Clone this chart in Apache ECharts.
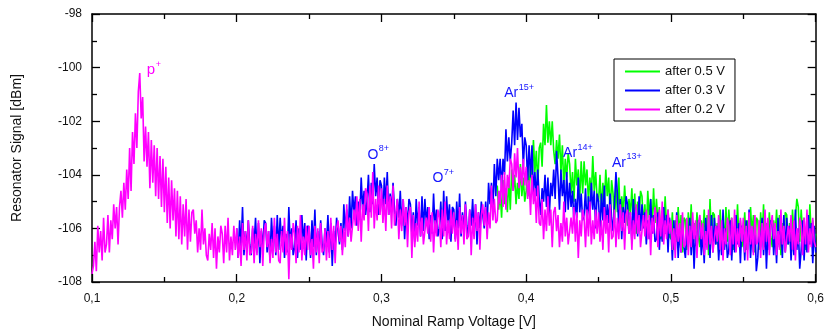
<!DOCTYPE html>
<html>
<head>
<meta charset="utf-8">
<script src="https://cdn.jsdelivr.net/npm/echarts@6/dist/echarts.min.js"></script>
<style>
  html, body { margin: 0; padding: 0; background: #fff; }
  #chart { width: 827px; height: 334px; }
</style>
</head>
<body>
<div id="chart"></div>
<script>
const FONT = '"Liberation Sans", Arial, sans-serif';

// Sweep sampling: each trace is recorded every 1 mV of ramp voltage
const stepV = 0.001;
const startAfter02 = 0.100;
const startAfter03 = 0.200;
const startAfter05 = 0.380;

// Resonator signal [dBm], trace "after 0.2 V" (0.100 ... 0.600 V), one row per 10 mV
const after02 = [
  -107.7, -107.4, -106.5, -107.6, -105.9, -106.9, -106.1, -107.2, -105.6, -106.9,
  -106.6, -105.5, -106.9, -105.7, -106.4, -105.1, -106.0, -105.2, -106.6, -105.2,
  -104.6, -105.6, -104.3, -105.3, -103.8, -104.9, -103.0, -104.6, -102.4, -103.6,
  -101.7, -103.0, -100.9, -100.2, -101.9, -101.1, -103.5, -102.2, -103.7, -102.4,
  -104.5, -102.7, -104.3, -102.9, -104.8, -103.0, -104.9, -103.3, -105.2, -103.4,
  -105.4, -103.7, -105.8, -104.1, -106.0, -104.2, -105.7, -104.5, -106.3, -104.6,
  -106.4, -104.8, -106.6, -105.1, -106.3, -104.9, -106.8, -105.3, -106.5, -105.4,
  -105.3, -106.2, -105.7, -106.9, -106.0, -106.8, -105.3, -106.6, -106.0, -107.0,
  -107.2, -106.2, -106.8, -105.8, -107.1, -106.0, -107.5, -106.3, -106.9, -105.9,
  -106.2, -107.3, -105.9, -106.9, -105.6, -107.2, -106.3, -107.0, -105.9, -106.8,
  -106.0, -107.1, -106.3, -107.4, -105.8, -106.8, -106.1, -107.2, -105.7, -107.0,
  -106.9, -105.9, -107.3, -106.2, -107.0, -105.7, -106.7, -106.0, -107.4, -106.1,
  -105.8, -106.7, -106.1, -107.3, -106.4, -107.1, -105.6, -106.9, -106.2, -107.2,
  -107.3, -106.1, -106.9, -105.6, -107.0, -106.1, -107.9, -106.2, -106.8, -105.8,
  -106.2, -107.3, -105.9, -106.9, -105.5, -107.2, -106.3, -107.0, -105.9, -106.8,
  -105.9, -107.0, -106.4, -107.5, -105.9, -106.9, -106.0, -107.3, -105.8, -106.9,
  -106.8, -106.0, -107.2, -106.1, -107.1, -105.6, -106.8, -105.9, -107.3, -106.0,
  -105.7, -106.5, -105.9, -107.0, -106.0, -106.7, -105.1, -106.3, -105.6, -106.5,
  -106.5, -105.3, -105.9, -104.8, -106.1, -104.9, -106.5, -105.1, -105.7, -104.5,
  -104.7, -106.1, -104.4, -105.6, -103.9, -106.0, -104.9, -105.7, -104.4, -105.5,
  -104.5, -105.8, -104.9, -106.1, -104.4, -105.5, -104.8, -106.0, -104.4, -105.9,
  -105.9, -104.9, -106.4, -105.3, -106.1, -104.9, -105.9, -105.2, -106.7, -105.4,
  -105.2, -107.1, -105.5, -106.7, -105.8, -106.5, -105.0, -106.3, -105.6, -106.6,
  -106.6, -105.6, -106.2, -105.2, -106.5, -105.4, -106.9, -105.7, -106.3, -105.3,
  -105.6, -106.7, -105.3, -106.3, -105.0, -106.6, -105.7, -106.4, -105.3, -106.2,
  -105.4, -106.5, -105.7, -106.8, -105.2, -106.2, -105.5, -106.6, -105.1, -106.4,
  -106.3, -105.3, -107.0, -105.6, -106.4, -105.1, -106.1, -105.4, -106.8, -105.5,
  -105.1, -105.9, -105.2, -106.4, -105.4, -106.0, -104.4, -105.7, -104.9, -105.8,
  -105.7, -104.6, -105.1, -104.0, -105.2, -103.9, -105.3, -104.0, -104.5, -103.4,
  -103.6, -104.6, -103.2, -104.1, -103.0, -104.5, -103.7, -104.4, -103.4, -104.4,
  -103.7, -104.9, -104.2, -105.5, -104.0, -105.1, -104.5, -105.8, -104.4, -105.8,
  -105.9, -104.9, -106.4, -105.3, -106.1, -104.8, -105.9, -105.3, -106.7, -105.4,
  -105.2, -106.1, -105.5, -106.7, -105.8, -106.5, -105.0, -106.3, -105.6, -106.6,
  -106.6, -105.6, -106.2, -105.2, -106.5, -105.4, -107.1, -105.7, -106.3, -105.3,
  -105.6, -106.7, -105.3, -106.3, -105.0, -106.6, -105.7, -106.4, -105.3, -106.2,
  -105.4, -106.5, -105.7, -106.8, -105.2, -106.2, -105.5, -106.9, -105.1, -106.4,
  -106.3, -105.3, -106.7, -105.6, -106.4, -105.1, -106.1, -105.4, -106.8, -105.5,
  -105.3, -106.2, -105.4, -106.8, -105.7, -106.4, -105.1, -106.2, -105.5, -106.7,
  -106.7, -105.5, -106.3, -105.3, -106.4, -105.5, -107.0, -105.6, -106.2, -105.2,
  -105.6, -106.7, -105.3, -106.3, -105.0, -106.6, -105.7, -106.4, -105.3, -106.2,
  -105.7, -106.8, -106.0, -107.1, -105.5, -106.5, -105.8, -106.9, -105.4, -106.7,
  -106.6, -105.6, -107.0, -105.9, -106.7, -105.4, -106.4, -105.7, -107.1, -105.8,
  -105.5, -106.4, -105.8, -107.0, -106.1, -106.8, -105.3, -106.6, -105.9, -106.9,
  -106.9, -105.9, -106.5, -105.5, -106.8, -105.7, -107.2, -106.0, -106.6, -105.6,
  -105.9, -107.0, -105.6, -106.6, -105.3, -106.9, -106.0, -106.7, -105.6, -106.5,
  -105.6, -106.9, -105.9, -107.2, -105.4, -106.6, -105.9, -107.0, -105.5, -106.6,
  -106.5, -105.7, -107.1, -105.8, -106.8, -105.3, -106.5, -105.6, -107.0, -105.9,
  -105.5, -106.4, -105.8, -107.0, -106.1, -106.8, -105.3, -106.6, -105.9, -106.9,
  -106.9, -105.9, -106.5, -105.5, -106.8, -105.7, -107.2, -106.0, -106.6, -105.6,
  -105.9, -107.0, -105.6, -106.6, -105.3, -106.9, -106.0, -106.7, -105.6, -106.5,
  -106.7
];

// Resonator signal [dBm], trace "after 0.3 V" (0.200 ... 0.600 V), one row per 10 mV
const after03 = [
  -106.0, -107.1, -105.7, -106.7, -105.2, -107.0, -106.1, -106.8, -105.7, -106.6,
  -107.0, -106.0, -106.6, -105.6, -106.9, -105.8, -107.3, -106.1, -106.7, -105.7,
  -105.8, -106.9, -106.1, -107.2, -105.6, -106.6, -105.9, -107.0, -105.5, -106.8,
  -105.6, -106.5, -105.9, -107.1, -106.2, -106.9, -105.2, -106.7, -106.0, -107.0,
  -106.7, -105.7, -107.1, -106.0, -106.8, -105.5, -106.5, -105.8, -107.2, -105.9,
  -106.0, -107.1, -105.7, -106.7, -105.3, -107.0, -106.1, -106.8, -105.7, -106.6,
  -107.0, -106.0, -106.6, -105.5, -106.9, -105.8, -107.4, -106.1, -106.7, -105.6,
  -105.6, -106.6, -105.8, -106.8, -105.1, -106.1, -105.3, -106.3, -104.8, -106.0,
  -104.6, -105.4, -104.8, -105.9, -105.0, -105.6, -104.1, -105.3, -104.6, -105.5,
  -105.0, -104.0, -105.4, -104.3, -105.1, -103.6, -104.8, -104.1, -105.5, -104.2,
  -104.4, -105.5, -104.1, -105.1, -103.9, -105.5, -104.7, -105.4, -104.3, -105.3,
  -105.9, -104.9, -105.6, -104.6, -105.9, -104.9, -106.4, -105.2, -105.9, -104.9,
  -105.1, -106.2, -105.4, -106.5, -104.9, -105.9, -105.2, -106.3, -104.8, -106.1,
  -104.9, -105.8, -105.2, -106.4, -105.5, -106.2, -104.7, -106.0, -105.3, -106.3,
  -106.0, -105.0, -106.4, -104.6, -106.1, -104.8, -105.8, -105.1, -106.5, -105.2,
  -105.3, -106.4, -105.0, -106.0, -104.7, -106.3, -105.4, -106.1, -105.0, -105.9,
  -106.3, -105.3, -105.9, -104.9, -106.2, -105.1, -106.6, -105.4, -106.0, -105.0,
  -105.0, -106.0, -105.0, -106.0, -104.3, -105.1, -104.3, -105.3, -103.6, -104.8,
  -103.4, -104.2, -103.4, -104.5, -103.4, -104.0, -102.3, -103.5, -102.6, -103.5,
  -102.8, -101.6, -102.9, -101.3, -102.7, -101.5, -102.6, -102.1, -103.7, -102.6,
  -102.9, -104.2, -102.9, -104.1, -102.9, -104.7, -103.9, -104.8, -103.8, -104.9,
  -105.5, -104.5, -105.0, -104.0, -105.2, -104.1, -105.5, -104.3, -104.8, -103.8,
  -104.9, -103.1, -104.1, -105.3, -103.8, -104.8, -104.2, -105.4, -103.9, -105.3,
  -104.3, -105.2, -104.6, -105.8, -104.9, -105.6, -104.1, -105.4, -104.7, -105.7,
  -105.5, -104.5, -105.9, -104.8, -105.6, -104.3, -105.3, -104.6, -106.0, -104.7,
  -105.0, -106.1, -104.7, -105.7, -104.4, -106.0, -105.1, -105.8, -104.7, -105.6,
  -106.1, -105.1, -103.9, -104.7, -106.0, -104.9, -106.4, -105.2, -105.8, -104.8,
  -105.1, -106.2, -105.4, -106.5, -104.9, -105.9, -105.2, -106.3, -104.8, -106.1,
  -105.1, -106.0, -105.4, -106.6, -105.7, -106.4, -104.9, -106.2, -105.5, -106.5,
  -106.4, -105.4, -106.8, -105.7, -106.5, -105.2, -106.2, -105.5, -106.9, -105.6,
  -106.0, -107.2, -105.7, -106.8, -105.4, -107.1, -106.1, -106.9, -105.7, -106.7,
  -107.1, -106.0, -106.7, -105.6, -107.0, -105.8, -107.5, -106.1, -106.8, -105.7,
  -105.8, -107.0, -106.1, -107.3, -105.6, -106.7, -105.9, -107.1, -105.5, -106.9,
  -105.6, -106.6, -105.9, -107.2, -106.2, -107.0, -105.3, -106.8, -106.0, -107.1,
  -106.8, -105.7, -107.2, -106.0, -106.9, -105.5, -106.6, -105.8, -107.3, -105.9,
  -106.0, -107.2, -105.7, -106.8, -105.3, -107.1, -106.1, -106.9, -105.7, -107.6,
  -107.1, -106.0, -106.7, -105.6, -107.0, -105.8, -107.5, -106.1, -106.8, -105.7,
  -105.8, -107.0, -106.1, -107.3, -105.6, -106.7, -105.9, -107.1, -105.5, -106.9,
  -105.6, -106.6, -105.9, -107.2, -106.2, -107.0, -105.3, -106.8, -106.0, -107.5,
  -106.8, -105.7, -107.2, -106.0, -106.9, -105.5, -106.6, -105.8, -107.3, -105.9,
  -106.9
];

// Resonator signal [dBm], trace "after 0.5 V" (0.380 ... 0.600 V), one row per 10 mV
const after05 = [
  -104.4, -105.3, -104.6, -105.6, -104.2, -105.1, -104.5, -105.4, -104.1, -105.3,
  -103.8, -104.6, -104.0, -105.1, -104.3, -104.9, -103.6, -104.8, -104.1, -105.0,
  -104.6, -103.5, -104.8, -103.6, -104.3, -102.7, -103.9, -103.1, -104.4, -103.0,
  -102.8, -103.7, -102.1, -102.9, -101.4, -102.8, -102.0, -102.9, -102.0, -103.1,
  -103.6, -102.7, -103.4, -102.5, -103.9, -102.9, -104.5, -103.4, -104.1, -103.2,
  -103.6, -104.7, -103.9, -105.0, -103.4, -104.4, -103.8, -104.9, -103.5, -104.7,
  -103.5, -104.4, -103.8, -105.0, -104.1, -104.8, -103.3, -104.6, -103.9, -104.9,
  -105.0, -104.0, -105.4, -104.3, -105.1, -103.8, -104.8, -104.1, -105.5, -104.2,
  -104.7, -105.8, -104.4, -105.4, -104.1, -105.7, -104.8, -105.5, -104.4, -105.3,
  -105.9, -104.9, -105.5, -104.5, -105.8, -104.7, -106.2, -105.0, -105.6, -104.6,
  -104.8, -105.9, -105.1, -106.2, -104.6, -105.6, -104.9, -106.0, -104.5, -105.8,
  -104.9, -105.8, -105.2, -106.4, -105.5, -106.2, -104.8, -106.0, -105.3, -106.3,
  -106.4, -105.4, -106.8, -105.7, -106.5, -105.2, -106.2, -105.5, -106.9, -105.6,
  -105.7, -106.8, -105.4, -106.4, -105.1, -106.7, -105.8, -106.5, -105.4, -106.3,
  -106.7, -105.7, -106.3, -105.3, -106.6, -105.5, -107.0, -104.9, -106.4, -105.4,
  -105.5, -106.6, -105.8, -106.9, -105.3, -106.3, -105.6, -106.7, -105.2, -106.5,
  -105.3, -106.2, -105.6, -106.8, -105.9, -106.6, -105.1, -106.4, -105.7, -106.7,
  -106.4, -105.4, -106.8, -105.7, -106.5, -105.2, -106.2, -105.5, -106.9, -105.6,
  -105.7, -106.8, -105.4, -106.4, -105.1, -106.7, -105.8, -106.5, -105.4, -106.3,
  -106.7, -105.7, -106.3, -105.3, -106.6, -105.5, -107.0, -105.8, -106.4, -105.4,
  -105.5, -106.6, -105.8, -106.9, -105.3, -106.3, -105.6, -104.9, -105.2, -106.5,
  -105.3, -106.2, -105.6, -106.8, -105.9, -106.6, -105.1, -106.4, -105.7, -106.7,
  -106.2
];

// Axis tick labels (decimal comma)
const xTickValues = [0.1, 0.2, 0.3, 0.4, 0.5, 0.6];
const xTickLabels = ['0,1', '0,2', '0,3', '0,4', '0,5', '0,6'];

// Ion species annotations: [base, superscript, voltage, dBm, colour]
const annotations = [
  ['p',  '+',   0.1379, -100.10, '#ff00ff'],
  ['O',  '8+',  0.2903, -103.26, '#1515ff'],
  ['O',  '7+',  0.3352, -104.14, '#1515ff'],
  ['Ar', '15+', 0.3848, -100.95, '#1515ff'],
  ['Ar', '14+', 0.4255, -103.19, '#1515ff'],
  ['Ar', '13+', 0.4593, -103.56, '#1515ff']
];

function toPairs(start, values) {
  return values.map((v, i) => [+(start + i * stepV).toFixed(3), v]);
}

function tickLabel(v) {
  for (let i = 0; i < xTickValues.length; i++) {
    if (Math.abs(v - xTickValues[i]) < 1e-6) return xTickLabels[i];
  }
  return '';
}

const chart = echarts.init(document.getElementById('chart'), null, { renderer: 'canvas' });

const axisLineStyle = { color: '#000', width: 1.5 };
const baseAxis = {
  axisLine: { show: true, onZero: false, lineStyle: axisLineStyle },
  axisTick: { show: true, inside: true, length: 8, lineStyle: { color: '#000', width: 1.3 } },
  minorTick: { show: true, splitNumber: 2, length: 5, lineStyle: { color: '#000', width: 1.3 } },
  splitLine: { show: false },
  minorSplitLine: { show: false }
};

function lineSeries(name, color, start, values) {
  return {
    name: name,
    type: 'line',
    xAxisIndex: 0,
    yAxisIndex: 0,
    data: toPairs(start, values),
    showSymbol: false,
    symbol: 'none',
    sampling: null,
    animation: false,
    lineStyle: { color: color, width: 1.6 },
    itemStyle: { color: color },
    emphasis: { disabled: true }
  };
}

chart.setOption({
  animation: false,
  backgroundColor: '#fff',
  textStyle: { fontFamily: FONT },
  grid: { left: 92, right: 10, top: 14, bottom: 52, containLabel: false },
  xAxis: [
    Object.assign({}, baseAxis, {
      type: 'value', position: 'bottom', min: 0.1, max: 0.6, interval: 0.1,
      name: 'Nominal Ramp Voltage [V]', nameLocation: 'middle', nameGap: 33,
      nameTextStyle: { fontFamily: FONT, fontSize: 14, color: '#111' },
      axisLabel: { fontFamily: FONT, fontSize: 12, color: '#111', margin: 11, formatter: tickLabel }
    }),
    Object.assign({}, baseAxis, {
      type: 'value', position: 'top', min: 0.1, max: 0.6, interval: 0.1,
      axisLabel: { show: false }
    })
  ],
  yAxis: [
    Object.assign({}, baseAxis, {
      type: 'value', position: 'left', min: -108, max: -98, interval: 2,
      name: 'Resonator Signal [dBm]', nameLocation: 'middle', nameGap: 68, nameRotate: 90,
      nameTextStyle: { fontFamily: FONT, fontSize: 14, color: '#111' },
      axisLabel: { fontFamily: FONT, fontSize: 12, color: '#111', margin: 10 }
    }),
    Object.assign({}, baseAxis, {
      type: 'value', position: 'right', min: -108, max: -98, interval: 2,
      axisLabel: { show: false }
    })
  ],
  legend: {
    orient: 'vertical',
    left: 614,
    top: 59,
    width: 128,
    padding: [6, 10, 5, 11],
    itemGap: 6,
    itemWidth: 35,
    itemHeight: 2,
    icon: 'rect',
    borderColor: '#000',
    borderWidth: 1,
    backgroundColor: '#fff',
    selectedMode: false,
    textStyle: { fontFamily: FONT, fontSize: 13, color: '#111', padding: [0, 0, 0, 0] },
    data: ['after 0.5 V', 'after 0.3 V', 'after 0.2 V']
  },
  series: [
    lineSeries('after 0.5 V', '#00ff00', startAfter05, after05),
    lineSeries('after 0.3 V', '#0000ff', startAfter03, after03),
    lineSeries('after 0.2 V', '#ff00ff', startAfter02, after02)
  ]
});

// Species labels with superscript charge states
const measureCtx = document.createElement('canvas').getContext('2d');
const labelElements = [];
annotations.forEach(function (a) {
  const p = chart.convertToPixel({ xAxisIndex: 0, yAxisIndex: 0 }, [a[2], a[3]]);
  const baseSize = a[0] === 'p' ? 15 : 14;
  measureCtx.font = baseSize + 'px ' + FONT;
  const w = measureCtx.measureText(a[0]).width;
  labelElements.push({
    type: 'text', silent: true, z: 100,
    x: p[0], y: p[1],
    style: { text: a[0], fill: a[4], font: baseSize + 'px ' + FONT, verticalAlign: 'middle', align: 'left' }
  });
  labelElements.push({
    type: 'text', silent: true, z: 100,
    x: p[0] + w + 0.5, y: p[1] - 6,
    style: { text: a[1], fill: a[4], font: '9px ' + FONT, verticalAlign: 'middle', align: 'left' }
  });
});
chart.setOption({ graphic: labelElements });
</script>
</body>
</html>
